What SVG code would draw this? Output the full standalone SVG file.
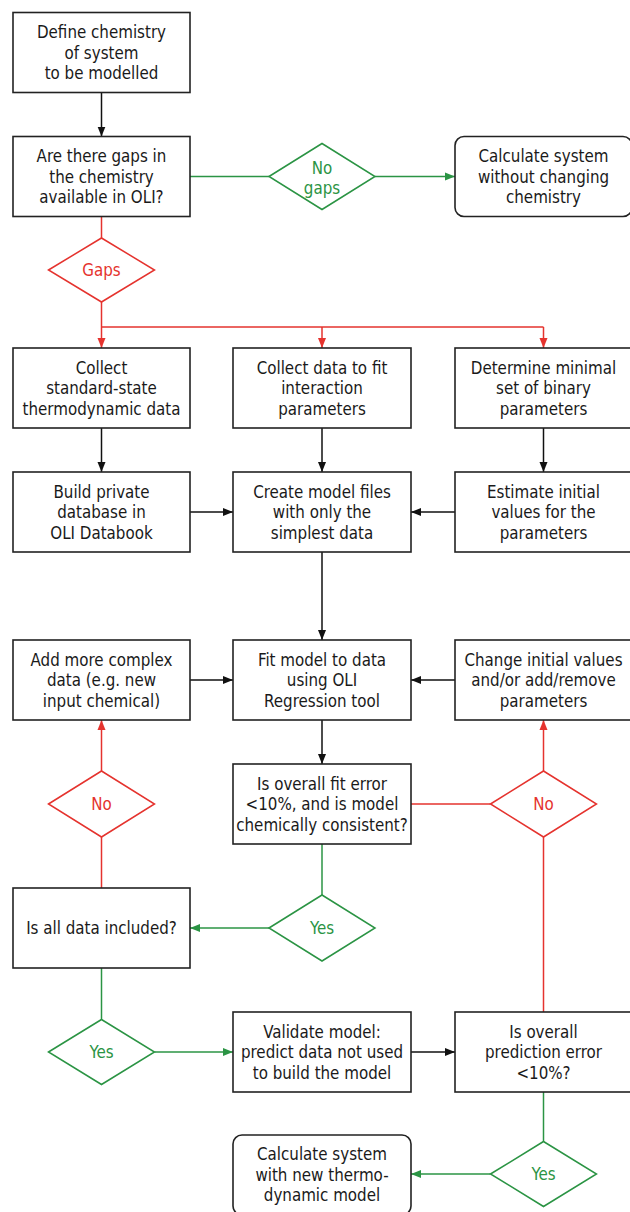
<svg xmlns="http://www.w3.org/2000/svg" width="630" height="1212" viewBox="0 0 630 1212">
<style>
.box{fill:#fff;stroke:#222;stroke-width:1.6}
.dr{fill:#fff;stroke:#e5332e;stroke-width:1.5}
.dg{fill:#fff;stroke:#2b9444;stroke-width:1.5}
text{font-family:"DejaVu Sans Condensed","DejaVu Sans",sans-serif;font-stretch:condensed;font-size:16.8px;text-anchor:middle;fill:#1a1a1a}
text.r{fill:#e5332e}
text.g{fill:#2b9444}
.ck{fill:none;stroke:#111;stroke-width:1.5}
.cr{fill:none;stroke:#e5332e;stroke-width:1.5}
.cg{fill:none;stroke:#2b9444;stroke-width:1.5}
</style>
<defs>
<marker id="ak" markerUnits="userSpaceOnUse" markerWidth="10" markerHeight="10" viewBox="0 0 10 10" refX="10" refY="5" orient="auto"><path d="M0,1 L10,5 L0,9 z" fill="#111"/></marker>
<marker id="ar" markerUnits="userSpaceOnUse" markerWidth="10" markerHeight="10" viewBox="0 0 10 10" refX="10" refY="5" orient="auto"><path d="M0,1 L10,5 L0,9 z" fill="#e5332e"/></marker>
<marker id="ag" markerUnits="userSpaceOnUse" markerWidth="10" markerHeight="10" viewBox="0 0 10 10" refX="10" refY="5" orient="auto"><path d="M0,1 L10,5 L0,9 z" fill="#2b9444"/></marker>
</defs>

<g id="connectors">
<path class="ck" d="M101.5,92.5 V136.5" marker-end="url(#ak)"/>
<path class="cg" d="M190,176.5 H269"/>
<path class="cg" d="M375,176.5 H455" marker-end="url(#ag)"/>
<path class="cr" d="M101.5,216.5 V238"/>
<path class="cr" d="M101.5,302 V348" marker-end="url(#ar)"/>
<path class="cr" d="M101.5,327 H543.5"/>
<path class="cr" d="M322,327 V348" marker-end="url(#ar)"/>
<path class="cr" d="M543.5,327 V348" marker-end="url(#ar)"/>
<path class="ck" d="M101.5,428 V472" marker-end="url(#ak)"/>
<path class="ck" d="M322,428 V472" marker-end="url(#ak)"/>
<path class="ck" d="M543.5,428 V472" marker-end="url(#ak)"/>
<path class="ck" d="M190,512 H233" marker-end="url(#ak)"/>
<path class="ck" d="M455,512 H411" marker-end="url(#ak)"/>
<path class="ck" d="M322,552 V640" marker-end="url(#ak)"/>
<path class="ck" d="M190,680 H233" marker-end="url(#ak)"/>
<path class="ck" d="M455,680 H411" marker-end="url(#ak)"/>
<path class="ck" d="M322,720 V764" marker-end="url(#ak)"/>
<path class="cr" d="M411,804 H490.5"/>
<path class="cr" d="M543.5,771 V720" marker-end="url(#ar)"/>
<path class="cr" d="M543.5,1012 V837"/>
<path class="cg" d="M322,844 V895"/>
<path class="cg" d="M269,928 H190" marker-end="url(#ag)"/>
<path class="cr" d="M101.5,888 V837"/>
<path class="cr" d="M101.5,771 V720" marker-end="url(#ar)"/>
<path class="cg" d="M101.5,968 V1019.5"/>
<path class="cg" d="M154.5,1052 H233" marker-end="url(#ag)"/>
<path class="ck" d="M411,1052 H455" marker-end="url(#ak)"/>
<path class="cg" d="M543.5,1092 V1141.5"/>
<path class="cg" d="M490.5,1174 H411" marker-end="url(#ag)"/>
</g>

<g id="define">
<rect class="box" x="13" y="12.5" width="177" height="80"/>
<text x="101.5" y="38">Define chemistry<tspan x="101.5" dy="20.5">of system</tspan><tspan x="101.5" dy="20.5">to be modelled</tspan></text>
</g>
<g id="gaps-question">
<rect class="box" x="13" y="136.5" width="177" height="80"/>
<text x="101.5" y="162">Are there gaps in<tspan x="101.5" dy="20.5">the chemistry</tspan><tspan x="101.5" dy="20.5">available in OLI?</tspan></text>
</g>
<g id="no-gaps">
<polygon class="dg" points="269,176.5 322,143.5 375,176.5 322,209.5"/>
<text class="g" x="322" y="174">No<tspan x="322" dy="20">gaps</tspan></text>
</g>
<g id="calc-without">
<rect class="box" x="455" y="136.5" width="177" height="80" rx="9"/>
<text x="543.5" y="162">Calculate system<tspan x="543.5" dy="20.5">without changing</tspan><tspan x="543.5" dy="20.5">chemistry</tspan></text>
</g>
<g id="gaps">
<polygon class="dr" points="48.5,270 101.5,238 154.5,270 101.5,302"/>
<text class="r" x="101.5" y="276">Gaps</text>
</g>

<g id="collect-standard">
<rect class="box" x="13" y="348" width="177" height="80"/>
<text x="101.5" y="373.5">Collect<tspan x="101.5" dy="20.5">standard-state</tspan><tspan x="101.5" dy="20.5">thermodynamic data</tspan></text>
</g>
<g id="collect-interaction">
<rect class="box" x="233" y="348" width="178" height="80"/>
<text x="322" y="373.5">Collect data to fit<tspan x="322" dy="20.5">interaction</tspan><tspan x="322" dy="20.5">parameters</tspan></text>
</g>
<g id="determine-binary">
<rect class="box" x="455" y="348" width="177" height="80"/>
<text x="543.5" y="373.5">Determine minimal<tspan x="543.5" dy="20.5">set of binary</tspan><tspan x="543.5" dy="20.5">parameters</tspan></text>
</g>

<g id="build-database">
<rect class="box" x="13" y="472" width="177" height="80"/>
<text x="101.5" y="497.5">Build private<tspan x="101.5" dy="20.5">database in</tspan><tspan x="101.5" dy="20.5">OLI Databook</tspan></text>
</g>
<g id="create-model">
<rect class="box" x="233" y="472" width="178" height="80"/>
<text x="322" y="497.5">Create model files<tspan x="322" dy="20.5">with only the</tspan><tspan x="322" dy="20.5">simplest data</tspan></text>
</g>
<g id="estimate-initial">
<rect class="box" x="455" y="472" width="177" height="80"/>
<text x="543.5" y="497.5">Estimate initial<tspan x="543.5" dy="20.5">values for the</tspan><tspan x="543.5" dy="20.5">parameters</tspan></text>
</g>

<g id="add-complex">
<rect class="box" x="13" y="640" width="177" height="80"/>
<text x="101.5" y="665.5">Add more complex<tspan x="101.5" dy="20.5">data (e.g. new</tspan><tspan x="101.5" dy="20.5">input chemical)</tspan></text>
</g>
<g id="fit-model">
<rect class="box" x="233" y="640" width="178" height="80"/>
<text x="322" y="665.5">Fit model to data<tspan x="322" dy="20.5">using OLI</tspan><tspan x="322" dy="20.5">Regression tool</tspan></text>
</g>
<g id="change-initial">
<rect class="box" x="455" y="640" width="177" height="80"/>
<text x="543.5" y="665.5">Change initial values<tspan x="543.5" dy="20.5">and/or add/remove</tspan><tspan x="543.5" dy="20.5">parameters</tspan></text>
</g>

<g id="no-left">
<polygon class="dr" points="48.5,804 101.5,771 154.5,804 101.5,837"/>
<text class="r" x="101.5" y="810">No</text>
</g>
<g id="fit-error">
<rect class="box" x="233" y="764" width="178" height="80"/>
<text x="322" y="789.5">Is overall fit error<tspan x="322" dy="20.5">&lt;10%, and is model</tspan><tspan x="322" dy="20.5">chemically consistent?</tspan></text>
</g>
<g id="no-right">
<polygon class="dr" points="490.5,804 543.5,771 596.5,804 543.5,837"/>
<text class="r" x="543.5" y="810">No</text>
</g>

<g id="all-data">
<rect class="box" x="13" y="888" width="177" height="80"/>
<text x="101.5" y="934">Is all data included?</text>
</g>
<g id="yes-fit">
<polygon class="dg" points="269,928 322,895 375,928 322,961"/>
<text class="g" x="322" y="934">Yes</text>
</g>

<g id="yes-all">
<polygon class="dg" points="48.5,1052 101.5,1019.5 154.5,1052 101.5,1084.5"/>
<text class="g" x="101.5" y="1058">Yes</text>
</g>
<g id="validate">
<rect class="box" x="233" y="1012" width="178" height="80"/>
<text x="322" y="1037.5">Validate model:<tspan x="322" dy="20.5">predict data not used</tspan><tspan x="322" dy="20.5">to build the model</tspan></text>
</g>
<g id="prediction-error">
<rect class="box" x="455" y="1012" width="177" height="80"/>
<text x="543.5" y="1037.5">Is overall<tspan x="543.5" dy="20.5">prediction error</tspan><tspan x="543.5" dy="20.5">&lt;10%?</tspan></text>
</g>

<g id="calc-new">
<rect class="box" x="233" y="1135" width="178" height="80" rx="9"/>
<text x="322" y="1160">Calculate system<tspan x="322" dy="20.5">with new thermo-</tspan><tspan x="322" dy="20.5">dynamic model</tspan></text>
</g>
<g id="yes-pred">
<polygon class="dg" points="490.5,1174 543.5,1141.5 596.5,1174 543.5,1206.5"/>
<text class="g" x="543.5" y="1180">Yes</text>
</g>
</svg>
